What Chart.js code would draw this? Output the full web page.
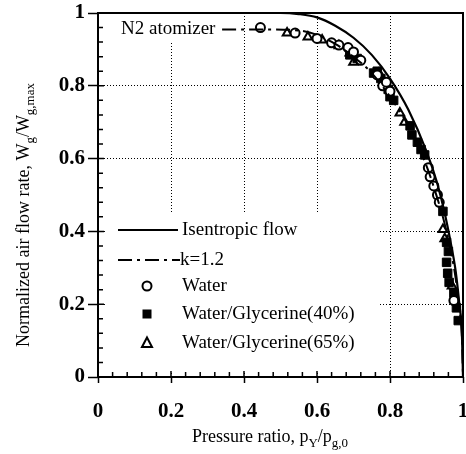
<!DOCTYPE html>
<html lang="en">
<head>
<meta charset="UTF-8">
<title>Normalized air flow rate vs pressure ratio</title>
<script src="https://cdn.jsdelivr.net/npm/chart.js"></script>
<style>
  body { margin: 0; background: #fff; }
  canvas { display: block; }
</style>
</head>
<body>

<canvas id="flowChart" width="466" height="454"></canvas>

<script>
// tick labels
const xTickLabels = ['0', '0.2', '0.4', '0.6', '0.8', '1'];
const yTickLabels = ['0', '0.2', '0.4', '0.6', '0.8', '1'];

// isentropic flow curve
const isenX = [0, 0.5, 0.55, 0.6, 0.65, 0.7, 0.75, 0.8, 0.85, 0.9, 0.93, 0.95, 0.97, 0.98, 0.99, 0.997, 1];
const isenY = [1, 1, 0.997, 0.988, 0.965, 0.932, 0.885, 0.82, 0.735, 0.62, 0.53, 0.45, 0.35, 0.29, 0.2, 0.12, 0];

// k=1.2 curve
const k12X = [0.34, 0.45, 0.55, 0.6, 0.65, 0.7, 0.75, 0.8, 0.85, 0.9, 0.93, 0.95, 0.97, 0.98, 0.99, 0.997, 1];
const k12Y = [0.955, 0.955, 0.952, 0.94, 0.915, 0.88, 0.835, 0.77, 0.69, 0.58, 0.49, 0.42, 0.33, 0.27, 0.19, 0.11, 0];

// measured points
const waterX = [0.445, 0.54, 0.6, 0.64, 0.66, 0.685, 0.7, 0.72, 0.765, 0.78, 0.79, 0.8, 0.905, 0.91, 0.92, 0.93, 0.935, 0.975];
const waterY = [0.96, 0.945, 0.93, 0.918, 0.912, 0.905, 0.893, 0.87, 0.83, 0.8, 0.81, 0.785, 0.575, 0.55, 0.525, 0.5, 0.48, 0.21];

const gly40X = [0.69, 0.71, 0.755, 0.765, 0.775, 0.785, 0.795, 0.8, 0.81, 0.855, 0.86, 0.875, 0.885, 0.895, 0.945, 0.955, 0.96, 0.955, 0.958, 0.962, 0.975, 0.982, 0.987];
const gly40Y = [0.885, 0.875, 0.835, 0.84, 0.82, 0.805, 0.79, 0.77, 0.76, 0.69, 0.665, 0.645, 0.625, 0.61, 0.455, 0.37, 0.345, 0.315, 0.285, 0.26, 0.23, 0.19, 0.155];

const gly65X = [0.518, 0.575, 0.614, 0.66, 0.69, 0.7, 0.77, 0.79, 0.827, 0.84, 0.945, 0.95, 0.97];
const gly65Y = [0.945, 0.934, 0.926, 0.91, 0.89, 0.865, 0.835, 0.8, 0.725, 0.7, 0.405, 0.38, 0.25];

const legendLabels = ['Isentropic flow', 'k=1.2', 'Water', 'Water/Glycerine(40%)', 'Water/Glycerine(65%)'];

function pairs(xs, ys) {
  return xs.map((x, i) => ({ x: x, y: ys[i] }));
}

const serif = '"Liberation Serif", "DejaVu Serif", serif';
const k12Dash = [14, 5, 3, 5];

// draws a run of text where some parts are subscripts
function drawRich(ctx, parts, x, y, size) {
  let cx = x;
  parts.forEach(p => {
    const s = p.sub ? size * 0.72 : size;
    ctx.font = s + 'px ' + serif;
    ctx.fillText(p.t, cx, p.sub ? y + size * 0.28 : y);
    cx += ctx.measureText(p.t).width;
  });
}

function drawMarker(ctx, style, x, y) {
  ctx.save();
  ctx.lineWidth = 2;
  ctx.strokeStyle = '#000';
  ctx.beginPath();
  if (style === 'circle') {
    ctx.arc(x, y, 4.5, 0, Math.PI * 2);
    ctx.fillStyle = '#fff';
    ctx.fill();
    ctx.stroke();
  } else if (style === 'rect') {
    ctx.fillStyle = '#000';
    ctx.fillRect(x - 4.5, y - 4.5, 9, 9);
  } else {
    ctx.moveTo(x, y - 5.5);
    ctx.lineTo(x + 5, y + 4);
    ctx.lineTo(x - 5, y + 4);
    ctx.closePath();
    ctx.fillStyle = '#fff';
    ctx.fill();
    ctx.stroke();
  }
  ctx.restore();
}

const decorations = {
  id: 'decorations',
  beforeDatasetsDraw(chart) {
    const { ctx, chartArea: a } = chart;
    ctx.save();
    ctx.fillStyle = '#fff';
    // blank areas behind the legend and the atomizer label
    ctx.fillRect(a.left + 9, 213, 272, a.bottom - 6 - 213);
    ctx.fillRect(a.left + 6, 16, 118, 26);

    ctx.fillStyle = '#000';
    ctx.textBaseline = 'middle';
    ctx.font = '19px ' + serif;
    ctx.fillText('N2 atomizer', 121, 29);

    // legend
    const rows = [230, 260, 286, 314, 343];
    const textX = 182;
    ctx.strokeStyle = '#000';
    ctx.lineWidth = 2;
    ctx.beginPath();
    ctx.moveTo(118, rows[0]);
    ctx.lineTo(178, rows[0]);
    ctx.stroke();
    ctx.setLineDash(k12Dash);
    ctx.beginPath();
    ctx.moveTo(118, rows[1]);
    ctx.lineTo(180, rows[1]);
    ctx.stroke();
    ctx.setLineDash([]);
    drawMarker(ctx, 'circle', 147, rows[2]);
    drawMarker(ctx, 'rect', 147, rows[3]);
    drawMarker(ctx, 'triangle', 147, rows[4]);
    ctx.font = '19px ' + serif;
    legendLabels.forEach((t, i) => ctx.fillText(t, i === 1 ? 180 : textX, rows[i]));
    ctx.restore();
  },
  afterDraw(chart) {
    const { ctx, chartArea: a } = chart;
    ctx.save();
    ctx.strokeStyle = '#000';
    ctx.lineWidth = 2;
    ctx.strokeRect(a.left, a.top, a.width, a.height);

    // inner ticks, minor every 0.04 and major every 0.2
    ctx.lineWidth = 1.5;
    const xs = chart.scales.x, ys = chart.scales.y;
    for (let i = 0; i <= 25; i++) {
      const v = i * 0.04;
      const len = i % 5 === 0 ? 6 : 5;
      const px = xs.getPixelForValue(v);
      const py = ys.getPixelForValue(v);
      ctx.beginPath();
      ctx.moveTo(px, a.bottom);
      ctx.lineTo(px, a.bottom - len);
      ctx.moveTo(a.left, py);
      ctx.lineTo(a.left + len, py);
      ctx.stroke();
    }

    // x tick labels (drawn here so the last one does not shrink the plot)
    ctx.fillStyle = '#000';
    ctx.font = 'bold 21px ' + serif;
    ctx.textAlign = 'center';
    ctx.textBaseline = 'middle';
    xs.ticks.forEach((t, i) => {
      ctx.fillText(xTickLabels[i], xs.getPixelForValue(t.value), a.bottom + 35);
    });

    // axis titles
    ctx.textAlign = 'left';
    ctx.textBaseline = 'alphabetic';
    drawRich(ctx, [
      { t: 'Pressure ratio, p' }, { t: 'Y', sub: true }, { t: '/p' }, { t: 'g,0', sub: true }
    ], 192, 442, 18);

    ctx.translate(29, 347);
    ctx.rotate(-Math.PI / 2);
    drawRich(ctx, [
      { t: 'Normalized air flow rate, W' }, { t: 'g', sub: true }, { t: '/W' }, { t: 'g,max', sub: true }
    ], 0, 0, 18);
    ctx.restore();
  }
};

const tickFont = { family: serif, size: 21, weight: 'bold' };

function noPad(s) {
  s.paddingLeft = 0;
  s.paddingRight = 0;
  s.paddingTop = 0;
  s.paddingBottom = 0;
}

new Chart(document.getElementById('flowChart'), {
  type: 'scatter',
  data: {
    datasets: [
      {
        label: legendLabels[0],
        data: pairs(isenX, isenY),
        showLine: true,
        borderColor: '#000',
        borderWidth: 2.2,
        pointRadius: 0,
        cubicInterpolationMode: 'monotone'
      },
      {
        label: legendLabels[1],
        data: pairs(k12X, k12Y),
        showLine: true,
        borderColor: '#000',
        borderWidth: 2,
        borderDash: k12Dash,
        pointRadius: 0,
        cubicInterpolationMode: 'monotone'
      },
      {
        label: legendLabels[2],
        data: pairs(waterX, waterY),
        pointStyle: 'circle',
        pointRadius: 4.5,
        backgroundColor: '#fff',
        borderColor: '#000',
        borderWidth: 2
      },
      {
        label: legendLabels[3],
        data: pairs(gly40X, gly40Y),
        pointStyle: 'rect',
        pointRadius: 6,
        backgroundColor: '#000',
        borderColor: '#000',
        borderWidth: 1
      },
      {
        label: legendLabels[4],
        data: pairs(gly65X, gly65Y),
        pointStyle: 'triangle',
        pointRadius: 5,
        backgroundColor: '#fff',
        borderColor: '#000',
        borderWidth: 2
      }
    ]
  },
  options: {
    responsive: false,
    animation: false,
    events: [],
    layout: { autoPadding: false, padding: { top: 13, right: 3, left: 0, bottom: 0 } },
    plugins: {
      legend: { display: false },
      tooltip: { enabled: false }
    },
    scales: {
      x: {
        type: 'linear',
        min: 0,
        max: 1,
        afterFit: s => { s.height = 77; noPad(s); },
        ticks: {
          stepSize: 0.2,
          display: false
        },
        grid: { color: '#000', lineWidth: 1, tickLength: 6, tickColor: '#000', tickWidth: 1.5 },
        border: { display: false, dash: [1, 2] }
      },
      y: {
        type: 'linear',
        min: 0,
        max: 1,
        afterFit: s => { s.width = 98; noPad(s); },
        ticks: {
          stepSize: 0.2,
          padding: 3,
          color: '#000',
          font: tickFont,
          callback: (v, i) => yTickLabels[i]
        },
        grid: { color: '#000', lineWidth: 1, tickLength: 10, tickColor: '#000', tickWidth: 1.5 },
        border: { display: false, dash: [1, 2] }
      }
    }
  },
  plugins: [decorations]
});
</script>

</body>
</html>
